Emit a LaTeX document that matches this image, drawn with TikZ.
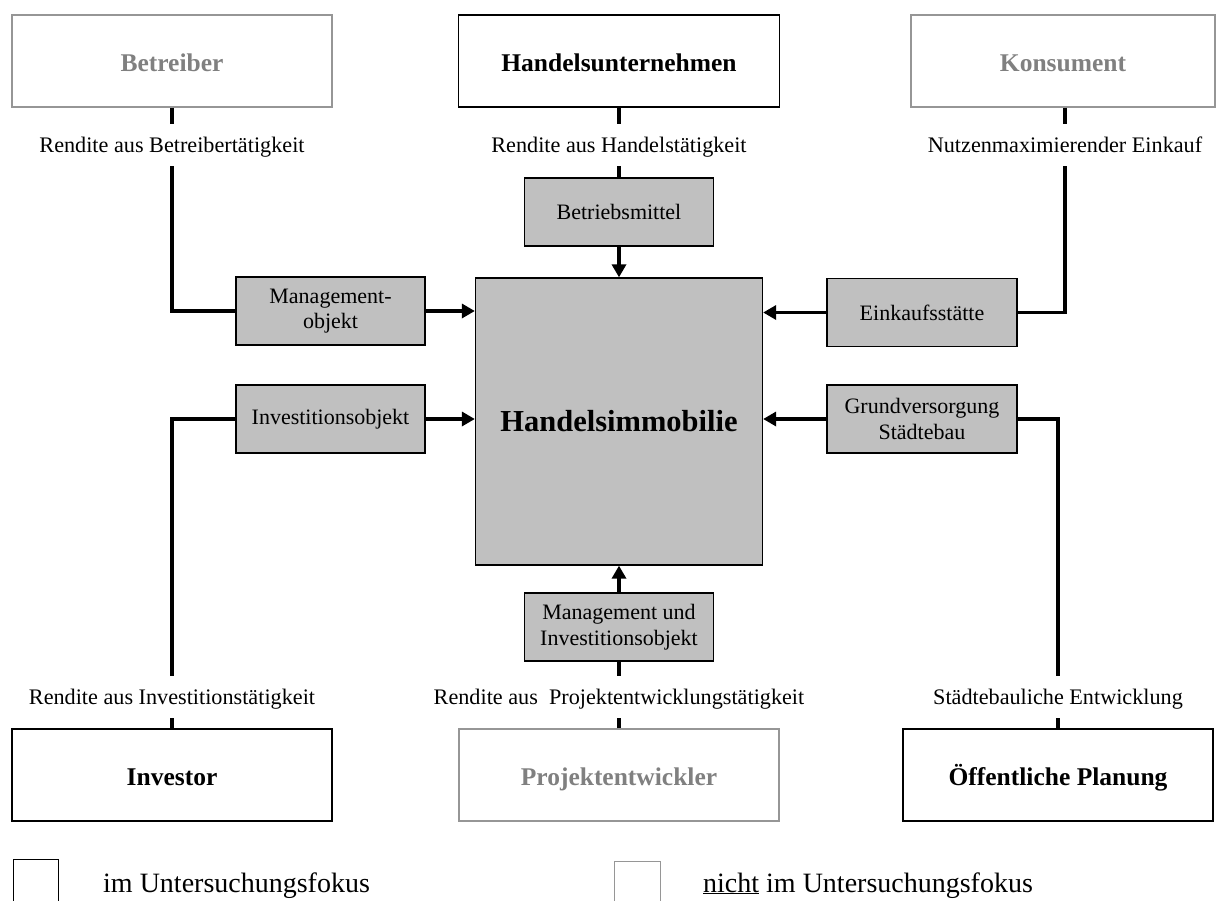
\documentclass[tikz,border=0pt]{standalone}
\usepackage{fontspec}
\setmainfont{Liberation Serif}
\usetikzlibrary{arrows.meta}
\definecolor{boxfill}{RGB}{192,192,192}
\definecolor{dimtext}{RGB}{128,128,128}
\definecolor{dimline}{RGB}{150,150,150}
\begin{document}
\begin{tikzpicture}[x=1pt,y=-1pt,
  actor/.style={draw=black, line width=1.3pt, rectangle, minimum width=320pt, minimum height=92pt,
    inner sep=0pt, text height=20pt, text depth=0pt, font=\fontsize{25.5}{29}\selectfont\bfseries},
  actordim/.style={actor, draw=dimline, text=dimtext},
  role/.style={draw=black, line width=1.3pt, fill=boxfill, rectangle, minimum width=189pt, minimum height=68pt,
    inner sep=0pt, align=center, font=\fontsize{22}{25.5}\selectfont},
  linklabel/.style={inner sep=0pt, minimum height=42pt, text height=17pt, text depth=3pt,
    font=\fontsize{22.2}{25}\selectfont},
  flow/.style={line width=3.8pt},
  flowarrow/.style={line width=3.8pt, -{Triangle[length=13pt,width=14pt]}},
  legendtext/.style={anchor=base west, inner sep=0pt, font=\fontsize{28}{32}\selectfont}
]
\useasboundingbox (0,0) rectangle (1216,900);
\clip (0,0) rectangle (1216,900);

% outer actors
\node[actordim] (betr) at (172,61) {Betreiber};
\node[actor, minimum width=321pt] (hu) at (619,61) {Handelsunternehmen};
\node[actordim, minimum width=304pt] (kons) at (1063,61) {Konsument};
\node[actor] (inv) at (172,775) {Investor};
\node[actordim] (pe) at (619,775) {Projektentwickler};
\node[actor, minimum width=310pt] (oep) at (1058,775) {Öffentliche Planung};

% central object
\node[draw=black, line width=1.3pt, fill=boxfill, minimum width=287pt, minimum height=287pt, inner sep=0pt,
  font=\fontsize{30.5}{34}\selectfont\bfseries] (hi) at (619,421.5) {Handelsimmobilie};

% roles of the property
\node[role] (mgmt) at (330.5,311) {Management-\\objekt};
\node[role, minimum width=190pt] (eink) at (922,312.5) {Einkaufsstätte};
\node[role] (bm) at (619,212) {Betriebsmittel};
\node[role] (io) at (330.5,419) {Investitionsobjekt};
\node[role, minimum width=190pt] (gv) at (922,419) {Grundversorgung\\Städtebau};
\node[role] (mi) at (619,627) {Management und\\Investitionsobjekt};

% motives on the connectors
\node[linklabel] (l1) at (172,145) {Rendite aus Betreibertätigkeit};
\node[linklabel] (l2) at (619,145) {Rendite aus Handelstätigkeit};
\node[linklabel] (l3) at (1065,145) {Nutzenmaximierender Einkauf};
\node[linklabel] (l4) at (172,697) {Rendite aus Investitionstätigkeit};
\node[linklabel] (l5) at (619,697) {Rendite aus\ \ Projektentwicklungstätigkeit};
\node[linklabel] (l6) at (1058,697) {Städtebauliche Entwicklung};

% connectors, top
\draw[flow] (betr.south) -- (l1.north);
\draw[flow] (l1.south) |- (mgmt.west);
\draw[flowarrow] (mgmt.east) -- (mgmt.east -| hi.west);
\draw[flow] (hu.south) -- (l2.north);
\draw[flow] (l2.south) -- (bm.north);
\draw[flowarrow] (bm.south) -- (hi.north);
\draw[flow] (kons.south -| l3) -- (l3.north);
\draw[flow] (l3.south) |- (eink.east);
\draw[flowarrow] (eink.west) -- (eink.west -| hi.east);

% connectors, bottom
\draw[flow] (inv.north) -- (l4.south);
\draw[flow] (l4.north) |- (io.west);
\draw[flowarrow] (io.east) -- (io.east -| hi.west);
\draw[flow] (pe.north) -- (l5.south);
\draw[flow] (l5.north) -- (mi.south);
\draw[flowarrow] (mi.north) -- (hi.south);
\draw[flow] (oep.north) -- (l6.south);
\draw[flow] (l6.north) |- (gv.east);
\draw[flowarrow] (gv.west) -- (gv.west -| hi.east);

% legend
\node[draw=black, line width=1.3pt, minimum width=45pt, minimum height=60pt, inner sep=0pt, anchor=north west] (key1) at (13,859) {};
\node[legendtext] (key1t) at (103,892) {im Untersuchungsfokus};
\node[draw=dimline, line width=1.3pt, minimum width=46pt, minimum height=60pt, inner sep=0pt, anchor=north west] (key2) at (614,861) {};
\node[legendtext] (key2t) at (703,892) {\underline{nicht} im Untersuchungsfokus};
\end{tikzpicture}
\end{document}
